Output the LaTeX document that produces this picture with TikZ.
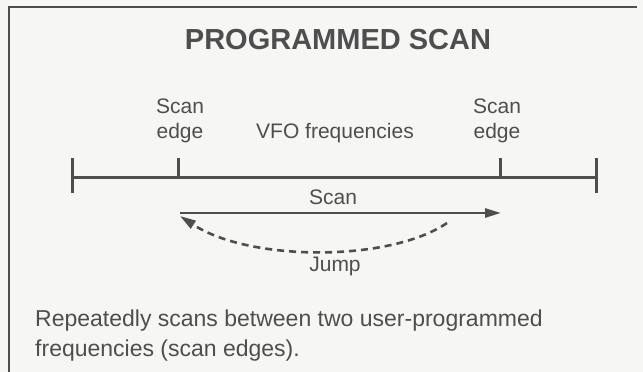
\documentclass[tikz,border=0pt]{standalone}
\usepackage{fontspec}
\setmainfont{Liberation Sans}
\usetikzlibrary{arrows.meta}
\definecolor{ink}{HTML}{4E4E4E}
\definecolor{paper}{HTML}{F6F6F4}
\tikzset{
  lbl/.style={text=ink, font=\fontsize{21}{25}\selectfont, align=center, inner sep=0pt},
  rule/.style={draw=ink, line width=3pt},
  tick/.style={draw=ink, line width=3pt},
  arr/.style={draw=ink, line width=2.6pt, -{Triangle[length=16pt,width=9pt]}},
  jump/.style={draw=ink, line width=2.6pt, dash pattern=on 7pt off 5pt, -{Triangle[length=16pt,width=9pt]}},
}
\begin{document}
\begin{tikzpicture}[x=1pt,y=1pt]
\fill[paper] (0,0) rectangle (643,-372);
\useasboundingbox (0,0) rectangle (643,-372);
% frame
\draw[ink, line width=1.8pt] (9,-372) -- (9,-7) -- (637,-7);
% title
\node[text=ink, font=\fontsize{29}{34}\selectfont\bfseries, inner sep=0pt] (title) at (338,-40) {PROGRAMMED SCAN};
% frequency line
\coordinate (L) at (72,-177);
\coordinate (R) at (596,-177);
\coordinate (EL) at (178,-177);
\coordinate (ER) at (500,-177);
\draw[rule] (L) -- (R);
\draw[tick] ([yshift=19pt]L) -- ([yshift=-16pt]L);
\draw[tick] ([yshift=19pt]R) -- ([yshift=-16pt]R);
\draw[tick] (EL) -- ([yshift=19pt]EL);
\draw[tick] (ER) -- ([yshift=19pt]ER);
% labels
\node[lbl] (sel) at (180,-121) {Scan\\edge};
\node[lbl] (ser) at (497,-121) {Scan\\edge};
\node[lbl] (vfo) at (335,-133) {VFO frequencies};
% scan arrow
\coordinate (SA) at (180,-213);
\coordinate (SB) at (501,-213);
\draw[arr] (SA) -- (SB);
\node[lbl] (scan) at (333,-197) {Scan};
% jump arrow
\coordinate (JA) at (447,-223);
\coordinate (JB) at (180,-216);
\draw[jump] (JA) .. controls (390,-262) and (250,-262) .. (JB);
\node[lbl] (jumpl) at (335,-266) {Jump};
% description
\node[text=ink, font=\fontsize{23}{30}\selectfont, align=left, anchor=north west, inner sep=0pt] (desc) at (35,-310) {Repeatedly scans between two user-programmed\\frequencies (scan edges).};
\end{tikzpicture}
\end{document}
